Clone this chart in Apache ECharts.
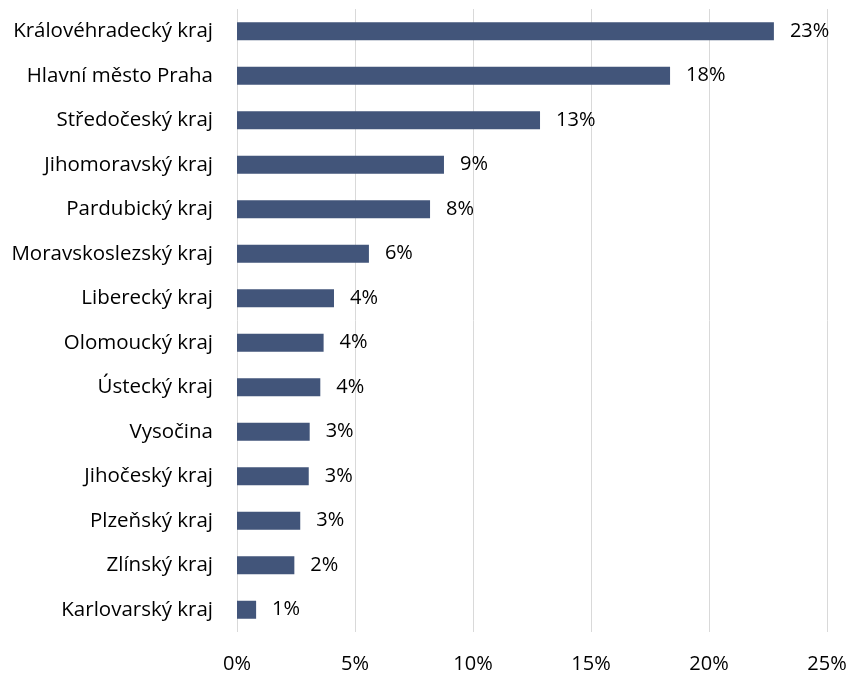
<!DOCTYPE html>
<html><head><meta charset="utf-8">
<script src="https://cdn.jsdelivr.net/npm/echarts@6/dist/echarts.min.js"></script>
<style>html,body{margin:0;padding:0;background:#fff}#c{width:850px;height:674px}</style>
</head><body><div id="c"></div>
<script>
const categories = ["Královéhradecký kraj","Hlavní město Praha","Středočeský kraj","Jihomoravský kraj","Pardubický kraj","Moravskoslezský kraj","Liberecký kraj","Olomoucký kraj","Ústecký kraj","Vysočina","Jihočeský kraj","Plzeňský kraj","Zlínský kraj","Karlovarský kraj"];
const values = [22.75,18.35,12.84,8.77,8.18,5.59,4.11,3.67,3.53,3.08,3.04,2.68,2.43,0.81];
const xTicks = [0,5,10,15,20,25];
const font = '"Open Sans", sans-serif';
const chart = echarts.init(document.getElementById('c'));
chart.setOption({
  animation:false,
  grid:{left:237,right:23,top:9,bottom:42,containLabel:false},
  xAxis:{type:'value',min:xTicks[0],max:xTicks[xTicks.length-1],interval:5,
    axisLine:{show:false},axisTick:{show:false},
    splitLine:{lineStyle:{color:'#d9d9d9',width:1}},
    axisLabel:{formatter:v=>v+'%',color:'#000',fontSize:20,fontFamily:font,margin:22}},
  yAxis:{type:'category',data:categories,inverse:true,
    axisLine:{show:false},axisTick:{show:false},
    axisLabel:{color:'#000',fontSize:20.5,fontFamily:font,margin:24}},
  series:[{type:'bar',data:values,barWidth:18,
    itemStyle:{color:'#42557a'},
    label:{show:true,position:'right',distance:16,color:'#000',fontSize:20,fontFamily:font,
      formatter:p=>Math.round(p.value)+'%'}}]
});
</script></body></html>
